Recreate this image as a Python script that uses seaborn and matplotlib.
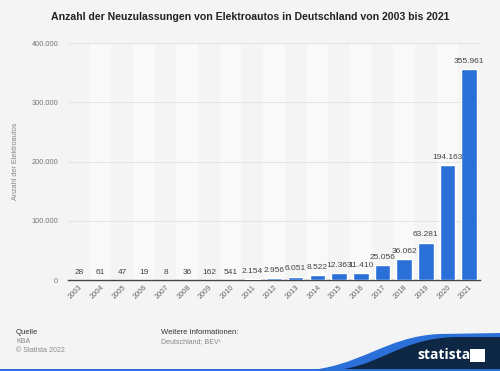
import seaborn as sns
import matplotlib.pyplot as plt
import pandas as pd
from matplotlib.path import Path
from matplotlib.patches import PathPatch, Rectangle

years = [str(y) for y in range(2003, 2022)]
zulassungen = [28, 61, 47, 19, 8, 36, 162, 541, 2154, 2956, 6051, 8522,
               12363, 11410, 25056, 36062, 63281, 194163, 355961]
y_ticks = [0, 100000, 200000, 300000, 400000]

df = pd.DataFrame({"Jahr": years, "Anzahl": zulassungen})

def de_fmt(v):
    return f"{v:,}".replace(",", ".")

sns.set_style("white")
plt.rcParams['font.family'] = ['Liberation Sans', 'DejaVu Sans']

bg = "#f4f4f4"
fig = plt.figure(figsize=(5, 3.71), dpi=100)
fig.patch.set_facecolor(bg)
ax = fig.add_axes([0.136, 0.245, 0.824, 0.639])
ax.set_facecolor(bg)

# alternating column shading
for i in range(len(years)):
    if i % 2 == 1:
        ax.axvspan(i - 0.5, i + 0.5, color="#f9f9f9", zorder=0, lw=0)

sns.barplot(data=df, x="Jahr", y="Anzahl", color="#2a70d8", width=0.72,
            saturation=1, ax=ax, zorder=3)

ax.set_xlim(-0.5, len(years) - 0.5)
ax.set_ylim(0, 400000)
ax.set_yticks(y_ticks)
ax.set_yticklabels([de_fmt(t) for t in y_ticks], fontsize=5.3, color="#777777")
ax.yaxis.grid(True, color="#e4e4e4", lw=0.7, zorder=1)
ax.set_axisbelow(True)
ax.tick_params(axis="y", length=0, pad=7)
ax.tick_params(axis="x", length=0, pad=3)
plt.setp(ax.get_xticklabels(), rotation=45, fontsize=5.3, color="#666666",
         ha="right", rotation_mode="anchor")
for s in ["top", "right", "left"]:
    ax.spines[s].set_visible(False)
ax.spines["bottom"].set_color("#444444")
ax.spines["bottom"].set_linewidth(1)
ax.set_xlabel("")
ax.set_ylabel("Anzahl der Elektroautos", fontsize=5.3, color="#888888", labelpad=9)

for i, v in enumerate(zulassungen):
    ax.annotate(de_fmt(v), (i, v), xytext=(0, 3), textcoords="offset points",
                ha="center", va="bottom", fontsize=6, color="#444444")

fig.text(0.5, 0.953, "Anzahl der Neuzulassungen von Elektroautos in Deutschland von 2003 bis 2021",
         ha="center", va="center", fontsize=7.6, fontweight="bold", color="#222222")

# footer
fig.text(0.032, 0.105, "Quelle", fontsize=5.5, color="#333333", va="center")
fig.text(0.032, 0.079, "KBA", fontsize=5, color="#888888", va="center")
fig.text(0.032, 0.054, "© Statista 2022", fontsize=5, color="#888888", va="center")
fig.text(0.322, 0.105, "Weitere Informationen:", fontsize=5.5, color="#333333", va="center")
fig.text(0.322, 0.079, "Deutschland; BEV¹", fontsize=5, color="#888888", va="center")

# statista wave logo
W, H = 500, 371
def fx(x):
    return x / W
def fy(y):
    return 1 - y / H
codes = [Path.MOVETO, Path.CURVE4, Path.CURVE4, Path.CURVE4,
         Path.LINETO, Path.LINETO, Path.CLOSEPOLY]
blue_verts = [(fx(300), fy(371)), (fx(360), fy(368)), (fx(385), fy(336)), (fx(440), fy(334)),
              (fx(500), fy(333)), (fx(500), fy(371)), (fx(300), fy(371))]
fig.patches.append(PathPatch(Path(blue_verts, codes), facecolor="#2a70d8",
                             edgecolor="none", transform=fig.transFigure))
navy_verts = [(fx(325), fy(371)), (fx(380), fy(369)), (fx(395), fy(339)), (fx(455), fy(337)),
              (fx(500), fy(337)), (fx(500), fy(371)), (fx(325), fy(371))]
fig.patches.append(PathPatch(Path(navy_verts, codes), facecolor="#0e2745",
                             edgecolor="none", transform=fig.transFigure))
fig.patches.append(Rectangle((0, 0), 1, 2 / H, facecolor="#2a70d8", edgecolor="none",
                             transform=fig.transFigure))
fig.text(fx(444), fy(355), "statista", fontsize=10, fontweight="bold", color="white",
         ha="center", va="center", family=["Open Sans", "DejaVu Sans"])
fig.patches.append(Rectangle((fx(470), fy(362)), 15 / W, 13 / H, facecolor="white",
                             edgecolor="none", transform=fig.transFigure))

fig.savefig("out.png", dpi=100, facecolor=bg)
